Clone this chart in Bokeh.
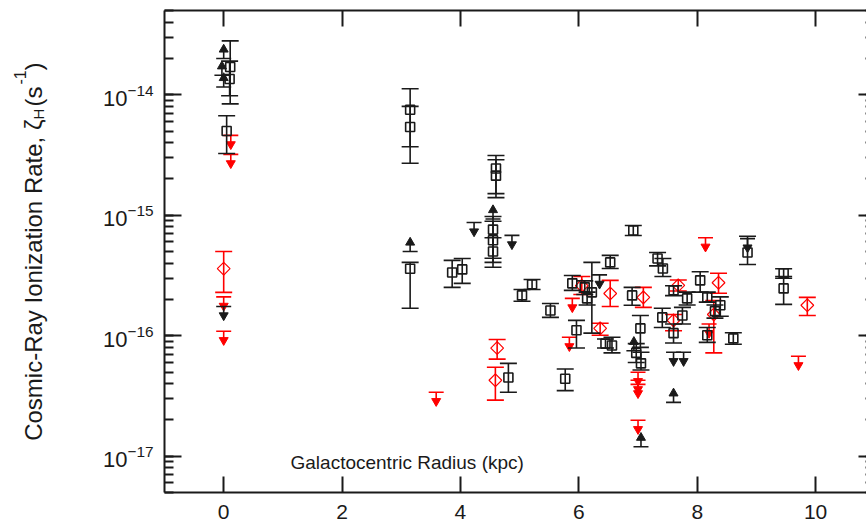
from math import pi
import math
from bokeh.plotting import figure
from bokeh.layouts import row
from bokeh.models import (Range1d, LogAxis, LinearAxis, FixedTicker, LogTicker,
                          Label, CustomJSTickFormatter)
from bokeh.embed import file_html
from bokeh.resources import INLINE

# ---------------- data ----------------
# black squares (detections) with error bars
blk_x = [0.11, 0.10, 0.05, 3.15, 3.15, 3.15, 3.86, 4.03, 4.60, 4.60, 4.55, 4.55, 4.55,
         4.81, 5.04, 5.21, 5.52, 5.77, 5.96, 5.89, 6.10, 6.14, 6.22, 6.53, 6.45, 6.56,
         6.92, 6.90, 7.04, 6.97, 7.05, 7.33, 7.42, 7.41, 7.60, 7.60, 7.75, 7.83, 8.05,
         8.17, 8.17, 8.39, 8.30, 8.61, 8.85, 9.46, 9.46]
blk_y = [1.7e-14, 1.35e-14, 5.0e-15, 7.5e-15, 5.4e-15, 3.6e-16, 3.35e-16, 3.55e-16, 2.44e-15,
         2.13e-15, 7.6e-16, 6.2e-16, 5.0e-16, 4.5e-17, 2.16e-16, 2.67e-16, 1.62e-16, 4.4e-17,
         1.11e-16, 2.72e-16, 2.52e-16, 2.04e-16, 2.29e-16, 4.06e-16, 8.6e-17, 8.3e-17,
         7.46e-16, 2.16e-16, 1.15e-16, 7.2e-17, 5.9e-17, 4.38e-16, 3.61e-16, 1.42e-16,
         1.05e-16, 2.38e-16, 1.47e-16, 2.04e-16, 2.88e-16, 2.08e-16, 1.01e-16, 1.79e-16,
         1.6e-16, 9.5e-17, 4.9e-16, 2.47e-16, 3.3e-16]
blk_lo = [8.4e-15, 9.8e-15, 3.25e-15, 3.7e-15, 2.7e-15, 1.69e-16, 2.52e-16, 2.72e-16, 1.51e-15,
          1.40e-15, 4.4e-16, 3.7e-16, 4.06e-16, 3.4e-17, 1.93e-16, 2.42e-16, 1.42e-16, 3.5e-17,
          7.9e-17, 2.38e-16, 2.2e-16, 1.8e-16, 1.05e-16, 3.61e-16, 7.9e-17, 7.2e-17,
          6.79e-16, 1.79e-16, 8.0e-17, 6.0e-17, 5.2e-17, 3.8e-16, 3.1e-16, 1.17e-16,
          8.7e-17, 2.15e-16, 1.25e-16, 1.8e-16, 2.3e-16, 1.9e-16, 8.8e-17, 1.45e-16,
          1.4e-16, 8.5e-17, 3.9e-16, 1.82e-16, 3.0e-16]
blk_hi = [2.8e-14, 1.9e-14, 6.7e-15, 1.12e-14, 8.0e-15, 4.06e-16, 4.22e-16, 4.38e-16, 3.13e-15,
          2.89e-15, 9.75e-16, 8.9e-16, 6.5e-16, 5.9e-17, 2.42e-16, 2.93e-16, 1.85e-16, 5.3e-17,
          1.34e-16, 3.16e-16, 2.85e-16, 2.3e-16, 4.06e-16, 4.64e-16, 9.4e-17, 9.7e-17,
          8.22e-16, 2.52e-16, 1.47e-16, 8.6e-17, 7.3e-17, 4.9e-16, 4.38e-16, 1.69e-16,
          1.25e-16, 2.6e-16, 1.72e-16, 2.3e-16, 3.4e-16, 2.3e-16, 1.17e-16, 2.1e-16,
          1.8e-16, 1.06e-16, 6.7e-16, 3.1e-16, 3.6e-16]

# red diamonds (detections) with error bars
red_x = [0.00, 4.62, 4.59, 6.05, 6.53, 6.36, 7.09, 7.60, 7.68, 8.36, 8.28, 9.86]
red_y = [3.6e-16, 7.9e-17, 4.27e-17, 2.6e-16, 2.24e-16, 1.15e-16, 2.08e-16, 1.34e-16,
         2.62e-16, 2.75e-16, 1.5e-16, 1.79e-16]
red_lo = [2.29e-16, 6.4e-17, 2.92e-17, 2.2e-16, 1.75e-16, 1.01e-16, 1.72e-16, 1.1e-16,
          2.35e-16, 2.25e-16, 7.2e-17, 1.47e-16]
red_hi = [5.0e-16, 9.3e-17, 5.47e-17, 3.1e-16, 2.88e-16, 1.27e-16, 2.52e-16, 1.5e-16,
          2.9e-16, 3.3e-16, 1.96e-16, 2.08e-16]

# upper limits
blk_ul_x = [0.00, 4.23, 4.87, 6.35, 7.60, 7.77, 8.85]
blk_ul_y = [1.75e-16, 8.7e-16, 6.8e-16, 3.2e-16, 7.3e-17, 7.3e-17, 6.4e-16]
red_ul_x = [0.12, 0.12, 0.00, 0.00, 3.59, 5.84, 5.89, 7.00, 7.00, 7.00, 7.00, 8.14, 9.71, 8.20]
red_ul_y = [4.6e-15, 3.2e-15, 2.1e-16, 1.09e-16, 3.4e-17, 9.7e-17, 2.04e-16, 4.98e-17,
            4.27e-17, 3.95e-17, 1.99e-17, 6.5e-16, 6.75e-17, 1.25e-16]

# lower limits
blk_ll_x = [0.00, -0.03, 0.00, 3.15, 4.55, 7.60, 7.05, 6.93]
blk_ll_y = [2.0e-14, 1.45e-14, 1.16e-14, 5.0e-16, 9.3e-16, 2.8e-17, 1.2e-17, 7.5e-17]

x_ticks = [0, 2, 4, 6, 8, 10]
x_title = "Galactocentric Radius (kpc)"
y_title_main = "Cosmic-Ray Ionization Rate, \u03b6"
y_title_sub = "H"
y_title_mid = "(s"
y_title_sup = "-1"
y_title_end = ")"

# ---------------- geometry / style ----------------
W, H = 866, 524
LABEL_W = 70
LEFT, TOP, BOTTOM, RIGHT = 164, 10, 32, 0
YMIN, YMAX = 5e-18, 5e-14
FONT = "Liberation Sans"
INK = "#1a1a1a"
RED = "#ff0000"

p = figure(width=W - LABEL_W, height=H, x_range=Range1d(-1, 10.86), y_range=Range1d(YMIN, YMAX),
           y_axis_type="log", output_backend="svg", toolbar_location=None,
           min_border_left=LEFT - LABEL_W, min_border_right=RIGHT, min_border_top=TOP,
           min_border_bottom=BOTTOM)
p.xgrid.visible = False
p.ygrid.visible = False
p.outline_line_color = None
p.background_fill_color = "white"
p.border_fill_color = "white"

ppd = (H - TOP - BOTTOM) / math.log10(YMAX / YMIN)


def fac(px):
    return 10 ** (px / ppd)


def style_axis(ax, tick_in, minor_in, labels=True):
    ax.axis_line_color = INK
    ax.axis_line_width = 2
    ax.major_tick_line_color = INK
    ax.major_tick_line_width = 2
    ax.minor_tick_line_color = INK
    ax.minor_tick_line_width = 2
    ax.major_tick_in = tick_in
    ax.major_tick_out = 0
    ax.minor_tick_in = minor_in
    ax.minor_tick_out = 0
    ax.major_label_text_font = FONT
    ax.major_label_text_font_size = "22px"
    ax.major_label_text_color = INK
    if not labels:
        ax.formatter = CustomJSTickFormatter(code="return ''")
        ax.major_label_standoff = 0


xa = p.xaxis[0]
xa.ticker = FixedTicker(ticks=x_ticks)
style_axis(xa, 16, 0)
xa.major_label_text_font_size = "21px"
xa.major_label_standoff = 12
xa.major_label_text_line_height = 0.8

ya = p.yaxis[0]
ya.ticker = LogTicker(num_minor_ticks=10)
style_axis(ya, 17, 9)
ya.major_label_standoff = 11

top_ax = LinearAxis(ticker=FixedTicker(ticks=x_ticks))
style_axis(top_ax, 16, 0, labels=False)
p.add_layout(top_ax, "above")

right_ax = LogAxis(ticker=LogTicker(num_minor_ticks=10))
style_axis(right_ax, 8, 1, labels=False)
right_ax.axis_line_color = None
p.add_layout(right_ax, "right")

# ---------------- marks ----------------
LW = 1.6


def errorbars(x, y, lo, hi, color):
    p.segment(x0=x, y0=lo, x1=x, y1=hi, line_color=color, line_width=LW)
    p.scatter(x=list(x) + list(x), y=list(lo) + list(hi), marker="dash", size=17,
              line_color=color, line_width=LW)


def upper_limits(x, y, color):
    p.scatter(x=x, y=y, marker="dash", size=15, line_color=color, line_width=LW)
    p.segment(x0=x, y0=y, x1=x, y1=[v / fac(8) for v in y], line_color=color, line_width=LW)
    p.scatter(x=x, y=[v / fac(9) for v in y], marker="inverted_triangle", size=9,
              fill_color=color, line_color=color)


def lower_limits(x, y, color):
    p.scatter(x=x, y=y, marker="dash", size=15, line_color=color, line_width=LW)
    p.segment(x0=x, y0=y, x1=x, y1=[v * fac(8) for v in y], line_color=color, line_width=LW)
    p.scatter(x=x, y=[v * fac(9) for v in y], marker="triangle", size=9,
              fill_color=color, line_color=color)


errorbars(red_x, red_y, red_lo, red_hi, RED)
p.scatter(x=red_x, y=red_y, marker="square", angle=pi / 4, size=9, fill_color=None,
          line_color=RED, line_width=1.2)
upper_limits(red_ul_x, red_ul_y, RED)

errorbars(blk_x, blk_y, blk_lo, blk_hi, INK)
p.scatter(x=blk_x, y=blk_y, marker="square", size=9, fill_color=None,
          line_color=INK, line_width=LW)
upper_limits(blk_ul_x, blk_ul_y, INK)
lower_limits(blk_ll_x, blk_ll_y, INK)

p.add_layout(Label(x=126, y=30, x_units="screen", y_units="screen", text=x_title,
                   text_font=FONT, text_font_size="19px", text_color=INK,
                   text_baseline="alphabetic", text_align="left"))

# ---------------- rotated y title in a narrow side figure ----------------
lab = figure(width=LABEL_W, height=H, x_range=Range1d(0, 1), y_range=Range1d(0, 1),
             output_backend="svg", toolbar_location=None, min_border=0, title=None,
             x_axis_location=None, y_axis_location=None)
lab.outline_line_color = None
lab.xgrid.visible = False
lab.ygrid.visible = False
lab.border_fill_color = "white"

SHIFT = 27


def vlabel(txt, py, dx, size, align):
    lab.add_layout(Label(x=33 + dx, y=H - py - SHIFT, x_units="screen", y_units="screen",
                         text=txt, angle=pi / 2, text_font=FONT, text_font_size=size,
                         text_color=INK, text_baseline="middle", text_align=align))


vlabel(y_title_main, 124, 0, "24px", "right")
vlabel(y_title_sub, 124, 5, "15px", "left")
vlabel(y_title_mid, 111, 0, "24px", "left")
vlabel(y_title_sup, 89, -14, "16px", "left")
vlabel(y_title_end, 75, 0, "24px", "left")

layout = row(lab, p, spacing=0)
open("out.html", "w").write(file_html(layout, INLINE))
